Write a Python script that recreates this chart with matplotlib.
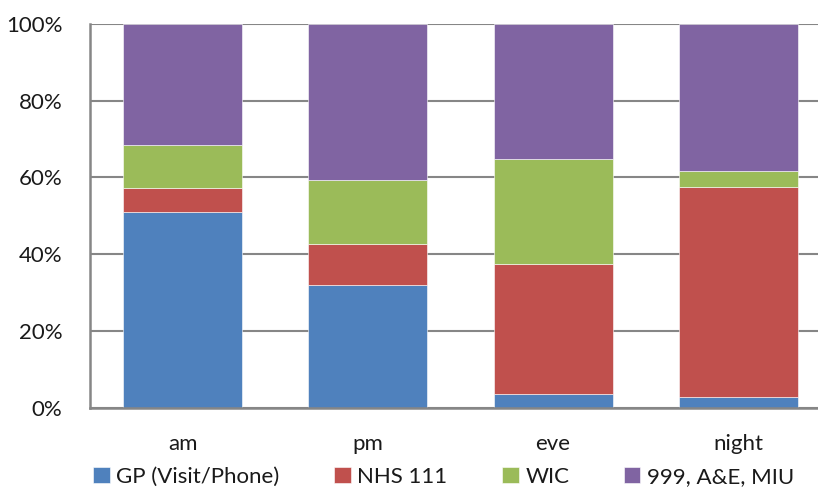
import matplotlib.pyplot as plt
import numpy as np

periods = ["am", "pm", "eve", "night"]
series = ["GP (Visit/Phone)", "NHS 111", "WIC", "999, A&E, MIU"]
gp = np.array([50.9, 31.9, 3.6, 2.7])
nhs111 = np.array([6.4, 10.7, 33.9, 54.8])
wic = np.array([11.1, 16.8, 27.4, 4.1])
emergency = np.array([31.6, 40.6, 35.1, 38.4])

colors = ["#4F81BD", "#C0504D", "#9BBB59", "#8064A2"]

plt.rcParams['font.family'] = ['Lato', 'DejaVu Sans']

fig = plt.figure(figsize=(8.18, 4.87), dpi=100)
# plot area runs past the right edge of the image
ax = fig.add_axes([90 / 818, (487 - 407.5) / 487, 741 / 818, 383.5 / 487])

x = np.arange(len(periods))
bottom = np.zeros(len(periods))
for name, vals, c in zip(series, [gp, nhs111, wic, emergency], colors):
    ax.bar(x, vals, bottom=bottom, width=0.643, color=c, label=name,
           edgecolor='white', linewidth=0.4, zorder=3)
    bottom += vals

ax.set_xlim(-0.5, 3.5)
ax.set_ylim(0, 100)
ax.set_yticks(np.arange(0, 101, 20))
ax.set_yticklabels([f"{v}%" for v in range(0, 101, 20)])
ax.set_xticks(x)
ax.set_xticklabels(periods)
ax.tick_params(axis='y', length=0, pad=20, labelsize=16, colors='#1a1a1a')
ax.tick_params(axis='x', length=0, pad=19, labelsize=16, colors='#1a1a1a')

ax.grid(axis='y', color='#868686', linewidth=1.5, zorder=0)
for side in ['top', 'right']:
    ax.spines[side].set_visible(False)
for side in ['left', 'bottom']:
    ax.spines[side].set_color('#868686')
    ax.spines[side].set_linewidth(1.8)
    ax.spines[side].set_zorder(4)

ax.legend(loc='center left', bbox_to_anchor=(82 / 818, 10 / 487),
          bbox_transform=fig.transFigure, ncol=4, frameon=False,
          fontsize=16, handlelength=0.75, handleheight=0.75,
          handletextpad=0.3, columnspacing=2.45, borderpad=0,
          labelcolor='#1a1a1a')

fig.savefig("out.png", dpi=100)
